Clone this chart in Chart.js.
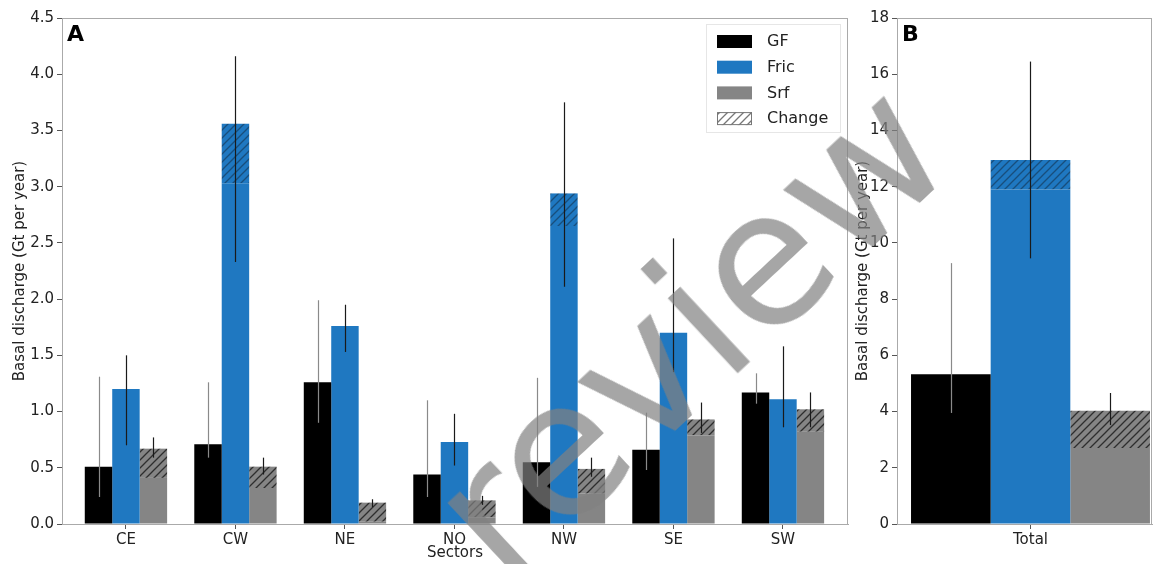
<!DOCTYPE html>
<html>
<head>
<meta charset="utf-8">
<script src="https://cdn.jsdelivr.net/npm/chart.js@4.4.0/dist/chart.umd.min.js"></script>
<style>
  html, body { margin: 0; padding: 0; background: #fff; }
  #wrap { position: relative; width: 1161px; height: 564px; overflow: hidden; }
  #chartA { position: absolute; left: 0; top: 0; }
  #chartB { position: absolute; left: 850px; top: 0; }
  #mark {
    position: absolute; left: 688px; top: 330px;
    font-family: 'DejaVu Sans', sans-serif; font-size: 188px;
    color: rgba(128, 128, 128, 0.7);
    transform: translate(-50%, -50%) rotate(-43deg);
    white-space: nowrap; pointer-events: none; line-height: 1;
  }
</style>
</head>
<body>
<div id="wrap">
  <canvas id="chartA" width="860" height="564"></canvas>
  <canvas id="chartB" width="311" height="564"></canvas>
  <div id="mark">review</div>
</div>
<script>
// panel A: sectors
var sectors = ['CE', 'CW', 'NE', 'NO', 'NW', 'SE', 'SW'];
var gf     = [0.51, 0.71, 1.26, 0.44, 0.55, 0.66, 1.17];
var gfLo   = [0.24, 0.59, 0.90, 0.24, 0.33, 0.48, 1.07];
var gfHi   = [1.31, 1.26, 1.99, 1.10, 1.30, 0.99, 1.34];
var fric   = [1.20, 3.56, 1.76, 0.73, 2.94, 1.70, 1.11];
var fricChange = [0, 0.53, 0, 0, 0.29, 0, 0];
var fricLo = [0.70, 2.33, 1.53, 0.52, 2.11, 1.35, 0.86];
var fricHi = [1.50, 4.16, 1.95, 0.98, 3.75, 2.54, 1.58];
var srf    = [0.67, 0.51, 0.19, 0.21, 0.49, 0.93, 1.02];
var srfChange = [0.26, 0.19, 0.17, 0.15, 0.22, 0.14, 0.20];
var srfLo  = [0.59, 0.44, 0.15, 0.17, 0.42, 0.81, 0.86];
var srfHi  = [0.77, 0.59, 0.22, 0.25, 0.59, 1.08, 1.17];
var ticksA = [0, 0.5, 1.0, 1.5, 2.0, 2.5, 3.0, 3.5, 4.0, 4.5];

// panel B: total
var totalLabel = ['Total'];
var gfTotal = [5.33],  gfTotalLo = [3.95],  gfTotalHi = [9.28];
var fricTotal = [12.95], fricTotalChange = [1.05], fricTotalLo = [9.45], fricTotalHi = [16.45];
var srfTotal = [4.03], srfTotalChange = [1.33], srfTotalLo = [3.52], srfTotalHi = [4.66];
var ticksB = [0, 2, 4, 6, 8, 10, 12, 14, 16, 18];

var BLACK = '#000000', BLUE = '#1f78c1', GREY = '#858585';

Chart.defaults.font.family = "'DejaVu Sans', sans-serif";
Chart.defaults.color = '#222';

function hatch(bg, line) {
    var c = document.createElement('canvas');
    c.width = c.height = 8;
    var x = c.getContext('2d');
    x.fillStyle = bg;
    x.fillRect(0, 0, 8, 8);
    x.strokeStyle = line;
    x.lineWidth = 1.3;
    x.beginPath();
    x.moveTo(0, 8); x.lineTo(8, 0);
    x.moveTo(-2, 2); x.lineTo(2, -2);
    x.moveTo(6, 10); x.lineTo(10, 6);
    x.stroke();
    return x.createPattern(c, 'repeat');
}

function sub(a, b) {
    return a.map((v, i) => v - b[i]);
}

function buildDatasets(g, f, fc, s, sc) {
    var zero = g.map(() => 0);
    return [
        { label: 'GF', stack: 'gf', data: g, backgroundColor: BLACK },
        { label: 'GF change', stack: 'gf', data: zero, backgroundColor: BLACK },
        { label: 'Fric', stack: 'fric', data: sub(f, fc), backgroundColor: BLUE },
        { label: 'Fric change', stack: 'fric', data: fc, backgroundColor: hatch(BLUE, '#184e7c') },
        { label: 'Srf', stack: 'srf', data: sub(s, sc), backgroundColor: GREY },
        { label: 'Srf change', stack: 'srf', data: sc, backgroundColor: hatch(GREY, '#2e2e2e') }
    ];
}

// error bars, box frame, panel letter and legend
var extras = {
    id: 'extras',
    afterDatasetsDraw(chart, args, opts) {
        var ctx = chart.ctx, y = chart.scales.y, a = chart.chartArea;
        ctx.save();
        opts.errors.forEach(function(e) {
            var meta = chart.getDatasetMeta(e.ds);
            ctx.strokeStyle = e.color;
            ctx.lineWidth = 1.2;
            meta.data.forEach(function(bar, i) {
                ctx.beginPath();
                ctx.moveTo(Math.round(bar.x) + 0.5, y.getPixelForValue(e.lo[i]));
                ctx.lineTo(Math.round(bar.x) + 0.5, y.getPixelForValue(e.hi[i]));
                ctx.stroke();
            });
        });
        ctx.strokeStyle = '#aaaaaa';
        ctx.lineWidth = 1;
        ctx.strokeRect(a.left + 0.5, a.top + 0.5, a.right - a.left - 1, a.bottom - a.top);
        ctx.fillStyle = '#000';
        ctx.font = "bold 22px 'DejaVu Sans', sans-serif";
        ctx.textBaseline = 'alphabetic';
        ctx.textAlign = 'left';
        ctx.fillText(opts.letter, a.left + 5, a.top + 23);
        if (opts.legend) {
            var lx = 717, ly = 35, step = 25.7;
            ctx.fillStyle = '#fff';
            ctx.strokeStyle = '#e6e6e6';
            ctx.fillRect(706, 24, 134, 108);
            ctx.strokeRect(706.5, 24.5, 134, 108);
            var items = [
                ['GF', BLACK], ['Fric', BLUE], ['Srf', GREY], ['Change', hatch('#ffffff', '#777')]
            ];
            ctx.font = "16px 'DejaVu Sans', sans-serif";
            ctx.textBaseline = 'middle';
            items.forEach(function(it, k) {
                var yy = ly + k * step;
                ctx.fillStyle = it[1];
                ctx.fillRect(lx, yy, 35, 13);
                if (k === 3) {
                    ctx.strokeStyle = '#777';
                    ctx.strokeRect(lx + 0.5, yy + 0.5, 34, 12);
                }
                ctx.fillStyle = '#222';
                ctx.fillText(it[0], lx + 50, yy + 7);
            });
        }
        ctx.restore();
    }
};

function makeChart(id, labels, datasets, errors, cfg) {
    var ctx = document.getElementById(id).getContext('2d');
    return new Chart(ctx, {
        type: 'bar',
        data: { labels: labels.map((l, i) => i), datasets: datasets },
        plugins: [extras],
        options: {
            responsive: false,
            animation: false,
            layout: { padding: { top: 18, right: cfg.right, left: 0, bottom: 0 } },
            datasets: { bar: { barPercentage: 1, categoryPercentage: cfg.cat, borderWidth: 0 } },
            plugins: {
                legend: { display: false },
                tooltip: { enabled: false },
                extras: { errors: errors, letter: cfg.letter, legend: cfg.legend }
            },
            scales: {
                x: {
                    type: 'linear',
                    offset: false,
                    min: cfg.xmin, max: cfg.xmax,
                    afterBuildTicks: s => { s.ticks = labels.map((l, i) => ({ value: i })); },
                    afterFit: s => { s.height = 40; },
                    ticks: { autoSkip: false, maxRotation: 0, padding: 2,
                             font: { size: 15 }, callback: v => labels[v] },
                    grid: { offset: false, drawOnChartArea: false, tickLength: 5, color: '#555' },
                    border: { color: '#aaaaaa' },
                    title: { display: !!cfg.xtitle, text: cfg.xtitle, font: { size: 15 },
                             padding: { top: 0, bottom: 2 } }
                },
                y: {
                    stacked: true,
                    min: 0, max: cfg.ymax,
                    afterBuildTicks: s => { s.ticks = cfg.yticks.map(v => ({ value: v })); },
                    afterFit: s => { s.width = cfg.yw; },
                    ticks: { font: { size: 15 }, padding: 3, callback: cfg.fmt },
                    grid: { drawOnChartArea: false, tickLength: 5, color: '#555' },
                    border: { color: '#aaaaaa' },
                    title: { display: true, text: 'Basal discharge (Gt per year)', font: { size: 15 },
                             padding: { top: cfg.ytpad, bottom: 4 } }
                }
            }
        }
    });
}

makeChart('chartA', sectors,
    buildDatasets(gf, fric, fricChange, srf, srfChange),
    [
        { ds: 0, lo: gfLo, hi: gfHi, color: '#8a8a8a' },
        { ds: 2, lo: fricLo, hi: fricHi, color: '#1a1a1a' },
        { ds: 4, lo: srfLo, hi: srfHi, color: '#1a1a1a' }
    ],
    { right: 12, yw: 62, xmin: -0.584, xmax: 6.594, cat: 0.752, ymax: 4.5, yticks: ticksA,
      fmt: v => v.toFixed(1), letter: 'A', legend: true, xtitle: 'Sectors', ytpad: 11 });

makeChart('chartB', totalLabel,
    buildDatasets(gfTotal, fricTotal, fricTotalChange, srfTotal, srfTotalChange),
    [
        { ds: 0, lo: gfTotalLo, hi: gfTotalHi, color: '#8a8a8a' },
        { ds: 2, lo: fricTotalLo, hi: fricTotalHi, color: '#1a1a1a' },
        { ds: 4, lo: srfTotalLo, hi: srfTotalHi, color: '#1a1a1a' }
    ],
    { right: 9, yw: 47, xmin: -0.5235, xmax: 0.4765, cat: 0.937, ymax: 18, yticks: ticksB,
      fmt: v => String(v), letter: 'B', legend: false, xtitle: '', ytpad: 4 });
</script>
</body>
</html>
